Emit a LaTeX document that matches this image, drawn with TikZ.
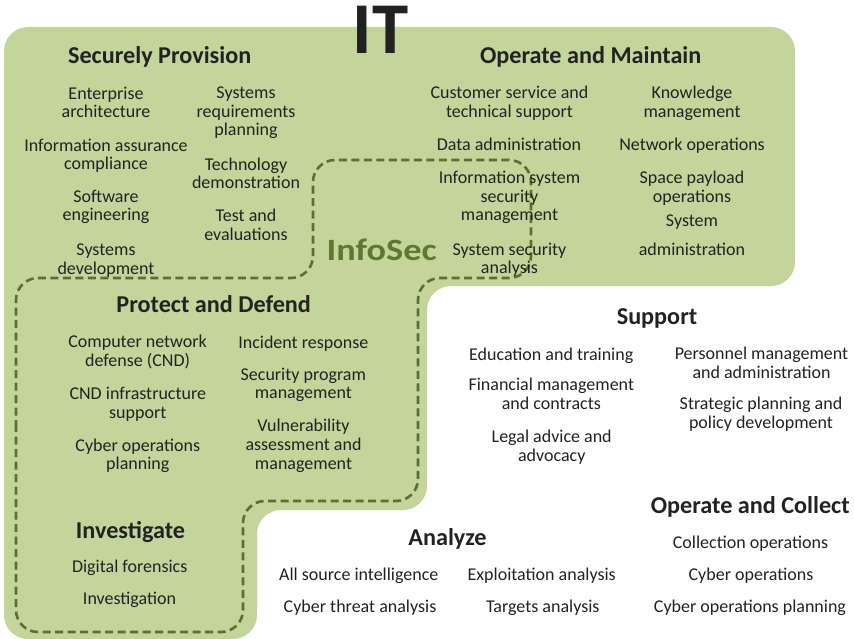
\documentclass[tikz,border=0pt]{standalone}
\usepackage{fontspec}
\setmainfont{Carlito}
\usepackage{graphicx}
\definecolor{fillg}{HTML}{C4D59B}
\definecolor{dashg}{HTML}{5B6E33}
\definecolor{infog}{HTML}{5E7832}
\definecolor{txt}{HTML}{222222}
\begin{document}
\begin{tikzpicture}[x=1pt,y=-1pt,
  itemtext/.style={font=\fontsize{18}{18.7}\selectfont, text=txt, align=center,
    inner sep=0pt, anchor=north, yshift=12.5pt, execute at begin node=\strut},
  headtext/.style={font=\bfseries\fontsize{24.2}{27}\selectfont, text=txt,
    inner sep=0pt, anchor=base},
  region/.style={fill=fillg, rounded corners=24pt},
  infoline/.style={draw=dashg, line width=2.6pt, dash pattern=on 8pt off 4.5pt,
    rounded corners=22pt}]
\useasboundingbox (0,0) rectangle (854,639);
% green IT region
\path[region] (4,330) -- (4,27) -- (795,27) -- (795,286) -- (427,286) -- (427,510)
  -- (257,510) -- (257,639) -- (4,639) -- cycle;
% InfoSec dashed boundary
\path[infoline] (16,450) -- (16,278) -- (313,278) -- (313,160) -- (531,160) -- (531,278)
  -- (418,278) -- (418,501) -- (243,501) -- (243,632) -- (16,632) -- cycle;
% titles
\node[font=\bfseries\fontsize{73}{76}\selectfont, text=txt, inner sep=0pt, anchor=base] (it) at (380.5,54) {IT};
\node[font=\bfseries\fontsize{31}{34}\selectfont, text=infog, inner sep=0pt, anchor=base] (infosec) at (381.7,260) {\scalebox{1.17}[1]{InfoSec}};
% Securely Provision
\node[headtext] (sp) at (159.7,64) {Securely Provision};
\node[itemtext] (a1) at (106,99) {Enterprise\\architecture};
\node[itemtext] (a2) at (106,151) {Information assurance\\compliance};
\node[itemtext] (a3) at (106,202) {Software\\engineering};
\node[itemtext] (a4) at (106,256) {Systems\\development};
\node[itemtext] (a5) at (246,99) {Systems\\requirements\\planning};
\node[itemtext] (a6) at (246,170) {Technology\\demonstration};
\node[itemtext] (a7) at (246,221.7) {Test and\\evaluations};
% Operate and Maintain
\node[headtext] (om) at (590.7,64) {Operate and Maintain};
\node[itemtext] (b1) at (509.5,98.3) {Customer service and\\technical support};
\node[itemtext] (b2) at (509,150) {Data administration};
\node[itemtext] (b3) at (509.5,183.3) {Information system\\security\\management};
\node[itemtext] (b4) at (509.5,255) {System security\\analysis};
\node[itemtext] (b5) at (692,98.3) {Knowledge\\management};
\node[itemtext] (b6) at (692,150) {Network operations};
\node[itemtext] (b7) at (692,183.3) {Space payload\\operations};
\node[itemtext] (b8) at (692,226) {System};
\node[itemtext] (b9) at (692,255) {administration};
% Protect and Defend
\node[headtext] (pd) at (213.7,312) {Protect and Defend};
\node[itemtext] (c1) at (137.6,347.3) {Computer network\\defense (CND)};
\node[itemtext] (c2) at (137.8,399.3) {CND infrastructure\\support};
\node[itemtext] (c3) at (137.8,451) {Cyber operations\\planning};
\node[itemtext] (c4) at (303.3,347.3) {Incident response};
\node[itemtext] (c5) at (303.3,380) {Security program\\management};
\node[itemtext] (c6) at (303.5,431.7) {Vulnerability\\assessment and\\management};
% Investigate
\node[headtext] (inv) at (130.5,538) {Investigate};
\node[itemtext] (d1) at (129.7,571.7) {Digital forensics};
\node[itemtext] (d2) at (129.5,603.3) {Investigation};
% Support
\node[headtext] (sup) at (657,324) {Support};
\node[itemtext] (e1) at (551.2,359.3) {Education and training};
\node[itemtext] (e2) at (551.3,390.7) {Financial management\\and contracts};
\node[itemtext] (e3) at (551.7,442.7) {Legal advice and\\advocacy};
\node[itemtext] (e4) at (761.5,359.3) {Personnel management\\and administration};
\node[itemtext] (e5) at (761,409.3) {Strategic planning and\\policy development};
% Analyze
\node[headtext] (an) at (447.5,545) {Analyze};
\node[itemtext] (f1) at (358.8,579.3) {All source intelligence};
\node[itemtext] (f2) at (360,611.7) {Cyber threat analysis};
\node[itemtext] (f3) at (541.7,579.3) {Exploitation analysis};
\node[itemtext] (f4) at (542.8,611.7) {Targets analysis};
% Operate and Collect
\node[headtext] (oc) at (750.3,513) {Operate and Collect};
\node[itemtext] (g1) at (750.5,547.3) {Collection operations};
\node[itemtext] (g2) at (751,579.3) {Cyber operations};
\node[itemtext] (g3) at (750,612) {Cyber operations planning};
\end{tikzpicture}
\end{document}
